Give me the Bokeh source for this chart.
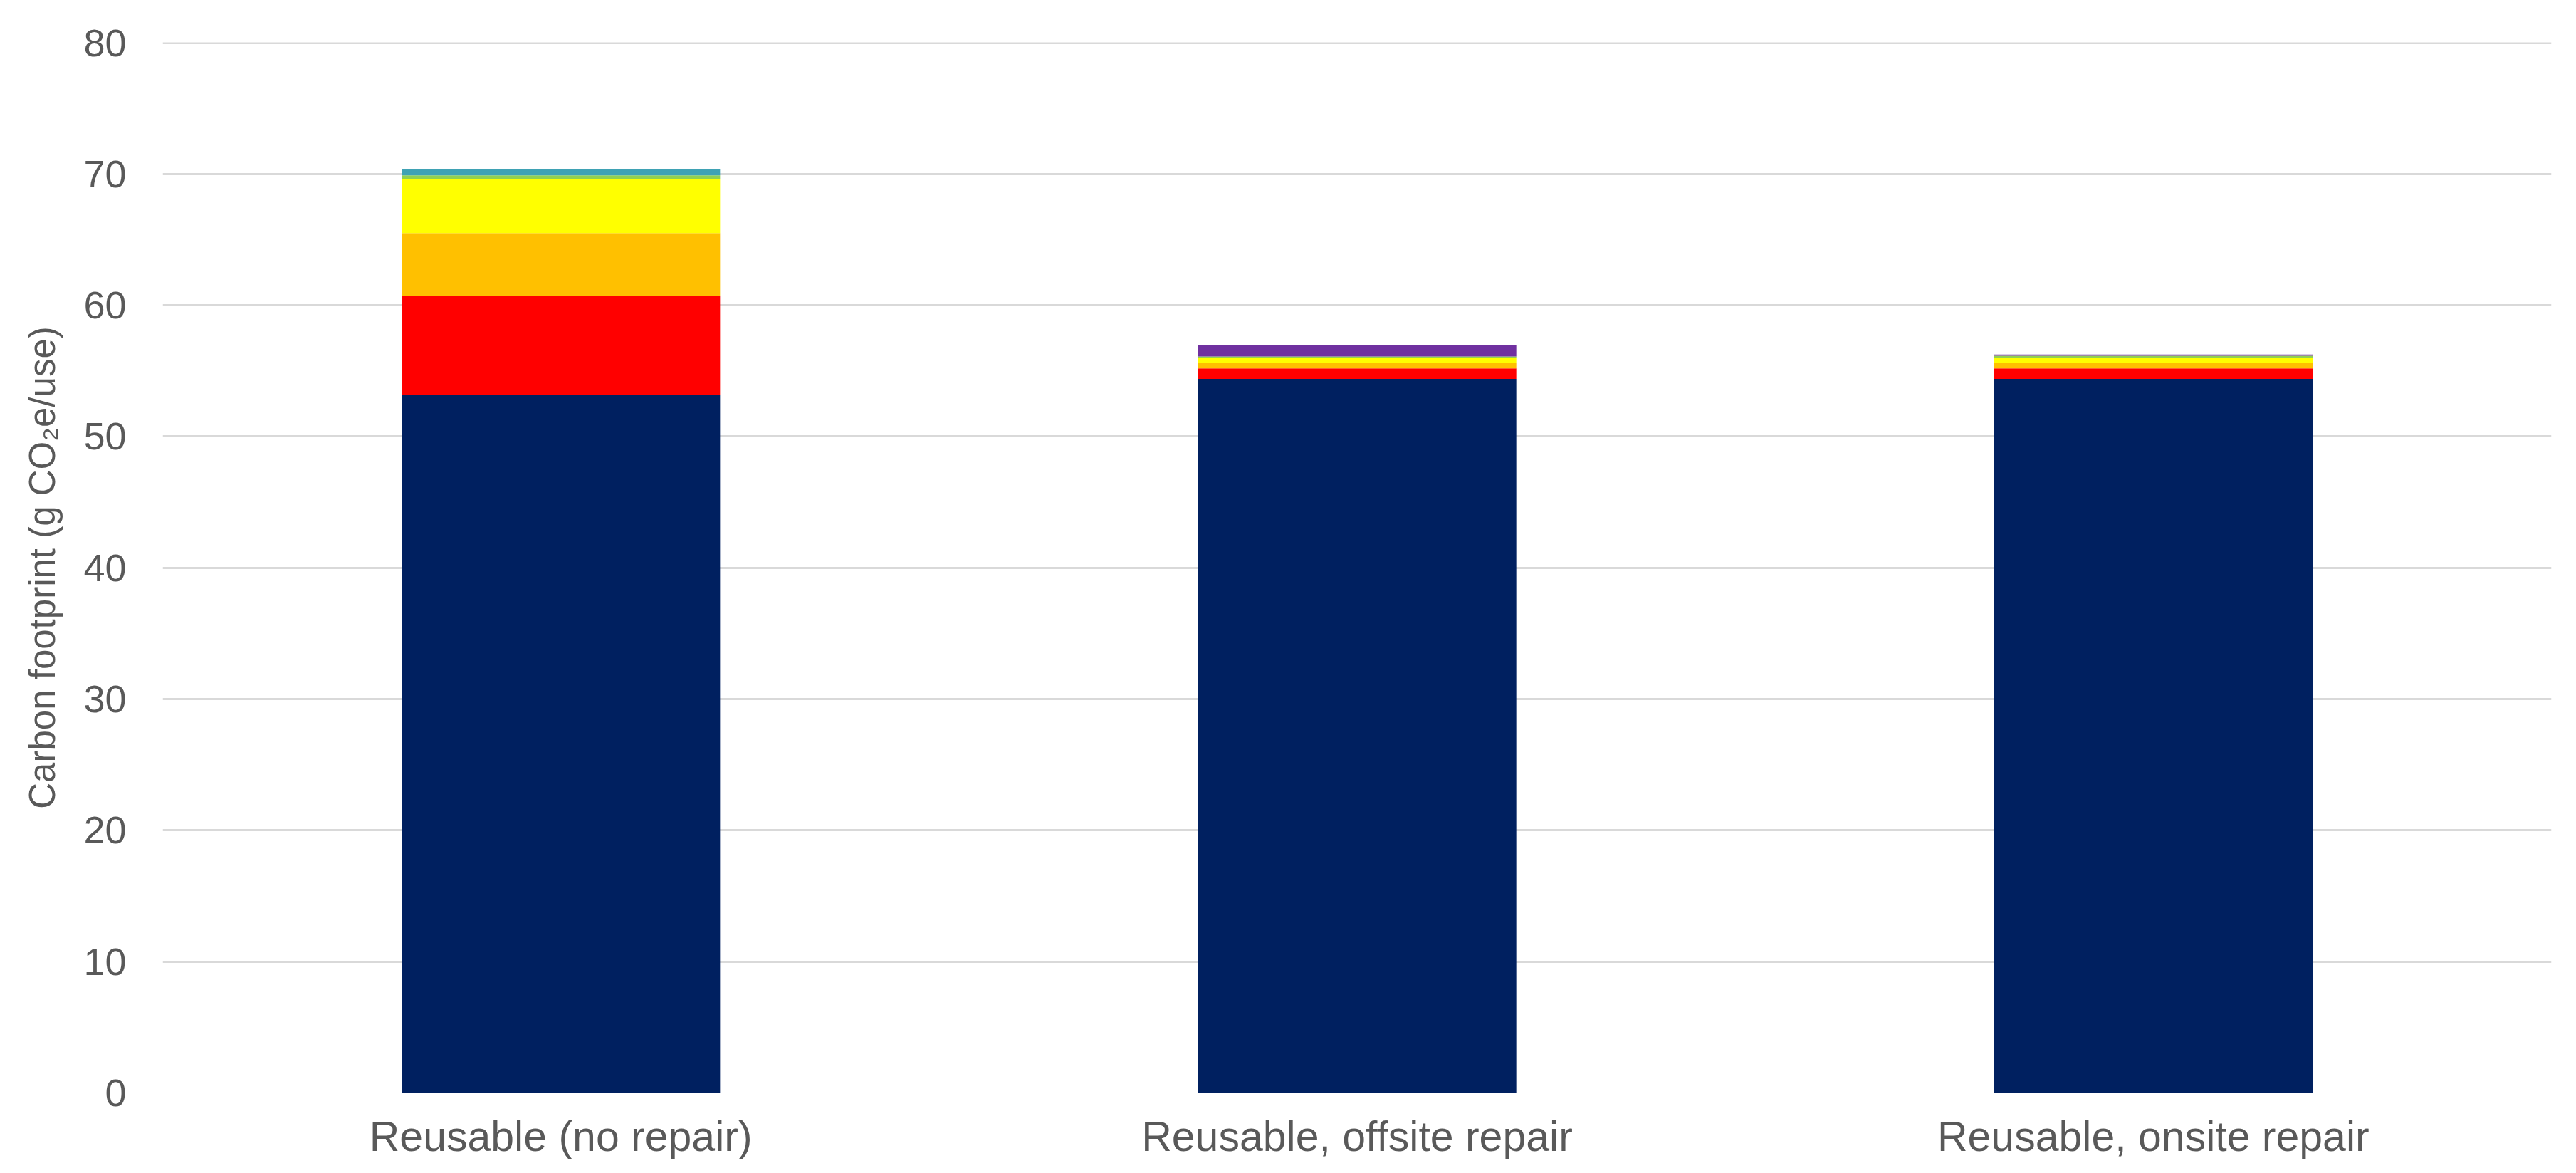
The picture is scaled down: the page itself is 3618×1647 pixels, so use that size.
from bokeh.plotting import figure
from bokeh.models import FactorRange, Range1d, SingleIntervalTicker
from bokeh.embed import file_html
from bokeh.resources import INLINE

categories = ["Reusable (no repair)", "Reusable, offsite repair", "Reusable, onsite repair"]
stages = ["Manufacturing", "Washing", "Sterilisation", "Packaging", "Transport", "End of life", "Repair"]
manufacturing = [53.2, 54.4, 54.4]
washing = [7.5, 0.8, 0.8]
sterilisation = [4.8, 0.4, 0.4]
packaging = [4.1, 0.4, 0.4]
transport = [0.3, 0.1, 0.15]
end_of_life = [0.5, 0.0, 0.0]
repair = [0.0, 0.9, 0.1]
colors = ["#002060", "#FF0000", "#FFC000", "#FFFF00", "#92D050", "#3FA2B4", "#7030A0"]
y_ticks_interval = 10

data = dict(cat=categories, Manufacturing=manufacturing, Washing=washing,
            Sterilisation=sterilisation, Packaging=packaging, Transport=transport,
            **{"End of life": end_of_life}, Repair=repair)

W, H = 3602, 1631
p = figure(x_range=FactorRange(*categories), y_range=Range1d(0, 80.03),
           width=W, height=H, output_backend="svg", toolbar_location=None,
           min_border_left=228, min_border_right=19, min_border_top=59, min_border_bottom=92)

p.vbar_stack(stages, x="cat", width=0.4, color=colors, line_color=None, source=data)

p.outline_line_color = None
p.xgrid.grid_line_color = None
p.ygrid.grid_line_color = "#D9D9D9"
p.ygrid.grid_line_width = 3

p.yaxis.ticker = SingleIntervalTicker(interval=y_ticks_interval)
for ax in (p.xaxis, p.yaxis):
    ax.axis_line_color = None
    ax.major_tick_line_color = None
    ax.minor_tick_line_color = None
    ax.major_label_text_color = "#595959"
    ax.major_label_text_font = "Liberation Sans"
p.yaxis.major_label_text_font_size = "54px"
p.yaxis.major_label_standoff = 45
p.xaxis.major_label_text_font_size = "59px"
p.xaxis.major_label_standoff = 22

p.yaxis.axis_label = "Carbon footprint (g CO\u2082e/use)"
p.yaxis.axis_label_text_font = "Liberation Sans"
p.yaxis.axis_label_text_font_size = "51px"
p.yaxis.axis_label_text_font_style = "normal"
p.yaxis.axis_label_text_color = "#595959"
p.yaxis.axis_label_standoff = 26

open("out.html", "w").write(file_html(p, INLINE))
